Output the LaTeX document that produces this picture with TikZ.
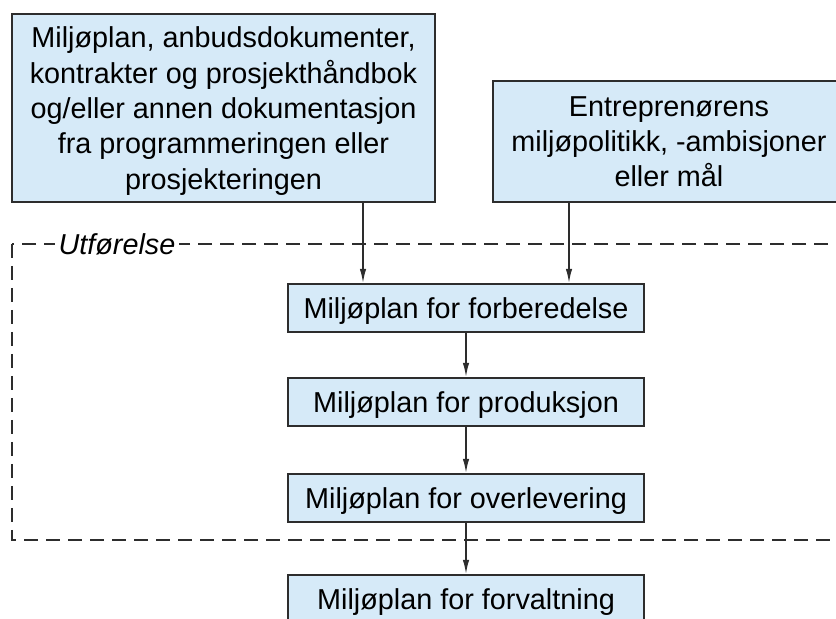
\documentclass[tikz,border=0pt]{standalone}
\usepackage{fontspec}
\setmainfont{Liberation Sans}
\usetikzlibrary{arrows.meta}
\definecolor{planblue}{RGB}{214,234,248}
\definecolor{planline}{RGB}{45,45,45}
\tikzset{plan/.style = {shape=rectangle,draw=planline,fill=planblue,line width=1pt,align=center,inner sep=0pt,text depth=0pt}}
\tikzset{flow/.style = {-{Latex[length=7pt,width=3.2pt]},line width=0.75pt,draw=planline}}
\tikzset{frame/.style = {dash pattern=on 7pt off 4pt,line width=1pt,draw=planline}}

\begin{document}
\begin{tikzpicture}[x=0.5pt,y=-0.5pt,font=\fontsize{14.4}{17.7}\selectfont]
      \useasboundingbox (0,0) rectangle (836,619);
      \clip (0,0) rectangle (836,619);

      \node[plan,minimum width=211.5pt,minimum height=94pt] (doc) at (223.5,108)
        {Miljøplan, anbudsdokumenter,\\kontrakter og prosjekthåndbok\\og/eller annen dokumentasjon\\fra programmeringen eller\\prosjekteringen};
      \node[plan,minimum width=176pt,minimum height=60.5pt] (entr) at (669,141.5)
        {Entreprenørens\\miljøpolitikk, -ambisjoner\\eller mål};

      \draw[frame] (12,244) rectangle (850,540);
      \node[fill=white,inner sep=2pt,font=\fontsize{14.4}{17.7}\selectfont\itshape] (utf) at (117,244) {Utførelse};

      \node[plan,minimum width=178pt,minimum height=24pt] (forb) at (466,308) {Miljøplan for forberedelse};
      \node[plan,minimum width=178pt,minimum height=24pt] (prod) at (466,402) {Miljøplan for produksjon};
      \node[plan,minimum width=178pt,minimum height=24pt] (overl) at (466,498) {Miljøplan for overlevering};
      \node[plan,minimum width=178pt,minimum height=24pt] (forv) at (466,599) {Miljøplan for forvaltning};

      \coordinate (d1) at (363,0);
      \coordinate (e1) at (569,0);
      \draw[flow] (d1 |- doc.south) -- (d1 |- forb.north);
      \draw[flow] (e1 |- entr.south) -- (e1 |- forb.north);
      \draw[flow] (forb) -- (prod);
      \draw[flow] (prod) -- (overl);
      \draw[flow] (overl) -- (forv);
    \end{tikzpicture}
\end{document}
